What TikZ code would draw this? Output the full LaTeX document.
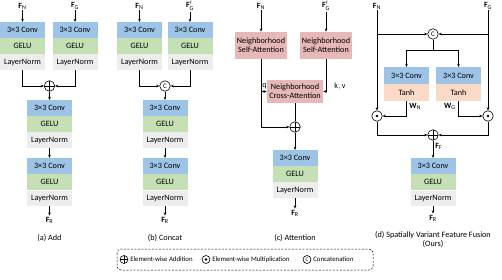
\documentclass[tikz,border=0pt]{standalone}
\usepackage{fontspec}
\setmainfont{Carlito}
\usepackage{amsmath}
\usetikzlibrary{arrows.meta,positioning}
\definecolor{convblue}{RGB}{157,195,230}
\definecolor{gelugreen}{RGB}{197,224,180}
\definecolor{normgray}{RGB}{237,237,237}
\definecolor{attnpink}{RGB}{230,184,183}
\definecolor{tanhpeach}{RGB}{250,218,198}

\begin{document}
\begin{tikzpicture}[x=1pt,y=-1pt,>={Stealth[length=3.2pt,width=2.6pt]},line width=0.6pt,
  txt/.style={font=\fontsize{8.2}{9}\selectfont},
  row/.style={txt,minimum width=45,minimum height=15.5,inner sep=0,anchor=north},
  conv/.style={row,fill=convblue},
  gelu/.style={row,fill=gelugreen},
  lnorm/.style={row,fill=normgray},
  tanhrow/.style={row,fill=tanhpeach},
  attn/.style={txt,fill=attnpink,align=center,inner sep=0,minimum width=52,minimum height=27},
  lbl/.style={font=\fontsize{8}{9}\selectfont,inner sep=1},
  opc/.style={circle,draw,inner sep=0,minimum size=10.5,fill=white},
  addop/.style={opc,path picture={\draw[line width=0.5pt] (path picture bounding box.north) -- (path picture bounding box.south) (path picture bounding box.west) -- (path picture bounding box.east);}},
  mulop/.style={opc,path picture={\fill[black] (path picture bounding box.center) circle (1.3);}},
  catop/.style={opc,font=\fontsize{7}{7}\selectfont},
  legtxt/.style={font=\fontsize{6.8}{8}\selectfont,anchor=west,inner sep=0}]
\useasboundingbox (0,0) rectangle (502,280);

% (a) Add
\node[lbl] (fnA) at (22.5,6) {$\mathbf{F}_{\mathrm{N}}$}; \node[lbl] (fgA) at (75,6) {$\mathbf{F}_{\mathrm{G}}$};
\node[conv] (convA1) at (22.5,22) {3×3 Conv}; \node[gelu,below=0pt of convA1] (geluA1) {GELU}; \node[lnorm,below=0pt of geluA1] (lnA1) {LayerNorm};
\node[conv] (convA2) at (75,22) {3×3 Conv}; \node[gelu,below=0pt of convA2] (geluA2) {GELU}; \node[lnorm,below=0pt of geluA2] (lnA2) {LayerNorm};
\node[addop] (addA) at (49.5,86) {};
\node[conv] (convA3) at (49.5,100) {3×3 Conv}; \node[gelu,below=0pt of convA3] (geluA3) {GELU}; \node[lnorm,below=0pt of geluA3] (lnA3) {LayerNorm};
\node[conv] (convA4) at (49.5,158) {3×3 Conv}; \node[gelu,below=0pt of convA4] (geluA4) {GELU}; \node[lnorm,below=0pt of geluA4] (lnA4) {LayerNorm};
\node[lbl] (frA) at (49.5,220) {$\mathbf{F}_{\mathrm{R}}$};
\node[txt] (capA) at (49.5,238) {(a) Add};
\draw[->] (fnA) -- (convA1); \draw[->] (fgA) -- (convA2);
\draw[->] (lnA1.south) |- (addA.west); \draw[->] (lnA2.south) |- (addA.east);
\draw[->] (addA) -- (convA3); \draw[->] (lnA3) -- (convA4); \draw[->] (lnA4) -- (frA);

% (b) Concat
\node[lbl] (fnB) at (139.5,6) {$\mathbf{F}_{\mathrm{N}}$}; \node[lbl] (fgB) at (190,6) {$\mathbf{F}'_{\mathrm{G}}$};
\node[conv] (convB1) at (139.5,22) {3×3 Conv}; \node[gelu,below=0pt of convB1] (geluB1) {GELU}; \node[lnorm,below=0pt of geluB1] (lnB1) {LayerNorm};
\node[conv] (convB2) at (190,22) {3×3 Conv}; \node[gelu,below=0pt of convB2] (geluB2) {GELU}; \node[lnorm,below=0pt of geluB2] (lnB2) {LayerNorm};
\node[catop] (catB) at (165,86) {C};
\node[conv] (convB3) at (165,100) {3×3 Conv}; \node[gelu,below=0pt of convB3] (geluB3) {GELU}; \node[lnorm,below=0pt of geluB3] (lnB3) {LayerNorm};
\node[conv] (convB4) at (165,158) {3×3 Conv}; \node[gelu,below=0pt of convB4] (geluB4) {GELU}; \node[lnorm,below=0pt of geluB4] (lnB4) {LayerNorm};
\node[lbl] (frB) at (165,220) {$\mathbf{F}_{\mathrm{R}}$};
\node[txt] (capB) at (165,238) {(b) Concat};
\draw[->] (fnB) -- (convB1); \draw[->] (fgB) -- (convB2);
\draw[->] (lnB1.south) |- (catB.west); \draw[->] (lnB2.south) |- (catB.east);
\draw[->] (catB) -- (convB3); \draw[->] (lnB3) -- (convB4); \draw[->] (lnB4) -- (frB);

% (c) Attention
\node[lbl] (fnC) at (261,6) {$\mathbf{F}_{\mathrm{N}}$}; \node[lbl] (fgC) at (326,6) {$\mathbf{F}'_{\mathrm{G}}$};
\node[attn] (saN) at (261,45.5) {Neighborhood\\Self-Attention};
\node[attn] (saG) at (326,45.5) {Neighborhood\\Self-Attention};
\node[attn,minimum width=56,minimum height=23] (caC) at (295,91.5) {Neighborhood\\Cross-Attention};
\node[lbl] (qC) at (264.5,86) {$\mathrm{q}$}; \node[lbl] (kvC) at (340,87) {$\mathrm{k,v}$};
\node[addop] (addC) at (295,127) {};
\node[conv] (convC) at (295,150) {3×3 Conv}; \node[gelu,below=0pt of convC] (geluC) {GELU}; \node[lnorm,below=0pt of geluC] (lnC) {LayerNorm};
\node[lbl] (frC) at (295,213) {$\mathbf{F}_{\mathrm{R}}$};
\node[txt] (capC) at (295,238) {(c) Attention};
\draw[->] (fnC) -- (saN); \draw[->] (fgC) -- (saG);
\draw[->] (saN.south) |- (addC.west); \draw[->] (saN.south |- caC.west) -- (caC.west);
\draw[->] (saG.south) |- (caC.east);
\draw (caC) -- (addC); \draw[->] (addC) -- (convC); \draw[->] (lnC) -- (frC);

% (d) Spatially Variant Feature Fusion
\node[lbl] (fnD) at (377,6) {$\mathbf{F}_{\mathrm{N}}$}; \node[lbl] (fgD) at (488,6) {$\mathbf{F}_{\mathrm{G}}$};
\node[catop] (catD) at (433,34) {C};
\coordinate (splitD) at (433,50);
\node[conv,minimum height=16.5] (convD1) at (406.5,67) {3×3 Conv}; \node[tanhrow,minimum height=16.5,below=0pt of convD1] (tanhD1) {Tanh};
\node[conv,minimum height=16.5] (convD2) at (458.5,67) {3×3 Conv}; \node[tanhrow,minimum height=16.5,below=0pt of convD2] (tanhD2) {Tanh};
\node[mulop] (mulN) at (377,116) {}; \node[mulop] (mulG) at (488,116) {};
\node[lbl,anchor=west] (wN) at (408,106) {$\mathbf{W}_{\mathrm{N}}$}; \node[lbl,anchor=east] (wG) at (457,106) {$\mathbf{W}_{\mathrm{G}}$};
\node[addop] (addD) at (433,135) {};
\node[lbl,anchor=west] (ffD) at (434,146) {$\mathbf{F}_{\mathrm{F}}$};
\node[conv] (convD3) at (433,158) {3×3 Conv}; \node[gelu,below=0pt of convD3] (geluD3) {GELU}; \node[lnorm,below=0pt of geluD3] (lnD3) {LayerNorm};
\node[lbl] (frD) at (433,218) {$\mathbf{F}_{\mathrm{R}}$};
\node[txt,align=center] (capD) at (433,240) {(d) Spatially Variant Feature Fusion\\(Ours)};
\draw[->] (fnD) -- (mulN); \draw[->] (fgD) -- (mulG);
\draw[->] (fnD.south |- catD.west) -- (catD.west); \draw[->] (fgD.south |- catD.east) -- (catD.east);
\draw (catD) -- (splitD); \draw[->] (splitD) -| (convD1.north); \draw[->] (splitD) -| (convD2.north);
\draw[->] (tanhD1.south) |- (mulN.east); \draw[->] (tanhD2.south) |- (mulG.west);
\draw[->] (mulN.south) |- (addD.west); \draw[->] (mulG.south) |- (addD.east);
\draw[->] (addD) -- (convD3); \draw[->] (lnD3) -- (frD);

% legend
\draw[dash pattern=on 2pt off 1.5pt,line width=0.5pt,rounded corners=4] (117,249) rectangle (373,270);
\node[addop,minimum size=8] (addL) at (124,259.5) {}; \node[legtxt] (addLt) at (130,259.5) {Element-wise Addition};
\node[mulop,minimum size=8] (mulL) at (206,259.5) {}; \node[legtxt] (mulLt) at (212,259.5) {Element-wise Multiplication};
\node[catop,minimum size=8,font=\fontsize{5.5}{6}\selectfont] (catL) at (307,259.5) {C}; \node[legtxt] (catLt) at (313,259.5) {Concatenation};
\end{tikzpicture}
\end{document}
